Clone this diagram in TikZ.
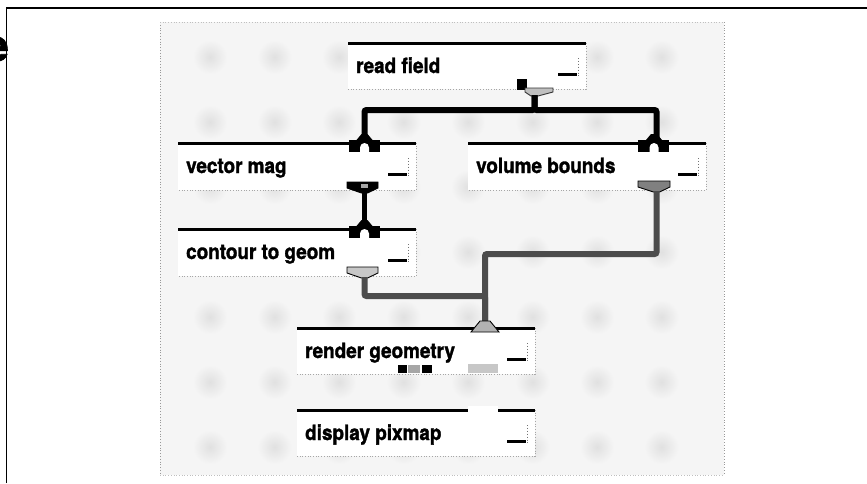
\documentclass[tikz,border=0pt]{standalone}
\usepackage{fontspec}
\setmainfont{TeX Gyre Heros}
\newfontface\modfont[FakeBold=1.6]{texgyreheros-bold.otf}
\usepackage{graphicx}
\usetikzlibrary{calc}
\newcommand\mymodule[5]{%
  \node[modbox, minimum height=#4pt] (#1) at (#2,#3) {};
  \draw[boxedge] (#1.north east) -- (#1.south east) -- (#1.south west);
  \draw[topbar] (#1.north west) -- (#1.north east);
  \node[modtitle] (#1-t) at ($(#1.north west)+(8,30)$) {\scalebox{0.9}[1]{#5}};
  \draw[widgetbar] ($(#1.north east)+(-28,31.5)$) -- ($(#1.north east)+(-9,31.5)$);
  \draw[widgetdots] ($(#1.north east)+(-8,15)$) -- ($(#1.north east)+(-8,33)$);
}
\newcommand\myinport[3]{%
  \fill[black] (#2-3,#3-9) -- (#2+3,#3-9) -- (#2+8,#3-3) -- (#2-8,#3-3) -- cycle;
  \fill[black] (#2-16,#3-3) rectangle (#2+15,#3+9);
  \fill[white] (#2-4.5,#3+9.5) -- (#2-4.5,#3+4.5) arc[start angle=180,end angle=360,radius=4.5] -- (#2+4.5,#3+9.5) -- cycle;
}
\newcommand\myfunnel[6]{%
  \filldraw[fill=#6, draw=black, line width=0.9pt] (#2,#4) -- (#3,#4) -- (#3,#4+6) -- (#5+3,#4+11) -- (#5-3,#4+11) -- (#2,#4+6) -- cycle;
  \coordinate (#1) at (#5,#4+10);
}
\begin{document}
\begin{tikzpicture}[x=1pt,y=-1pt,
  frameline/.style={line width=1.8pt, black},
  bgedge/.style={black!40, dotted, line width=0.8pt},
  modbox/.style={draw=none, fill=white, anchor=north west, minimum width=238pt, inner sep=0pt, outer sep=0pt},
  boxedge/.style={black!35, dotted, line width=0.7pt},
  topbar/.style={line width=3pt, black},
  modtitle/.style={anchor=base west, inner sep=0pt, font=\fontsize{21}{24}\modfont},
  widgetbar/.style={line width=2.6pt, black},
  widgetdots/.style={black!55, dotted, line width=0.9pt},
  wire/.style={line width=6pt, black, rounded corners=2pt},
  graywire/.style={line width=6pt, black!70, rounded corners=2pt},
  blob/.style={inner color=black!12, outer color=black!4}
]
\useasboundingbox (0,0) rectangle (867,483);
% outer frame
\coordinate (fr-tl) at (6.5,8);
\coordinate (fr-tr) at (867,8);
\coordinate (fr-bl) at (6.5,483);
\draw[frameline] (fr-bl) -- (fr-tl) -- (fr-tr);
\node[anchor=base east, inner sep=0pt, font=\fontsize{44}{44}\modfont] (cut) at (9,61) {e};
% stippled canvas
\fill[black!4] (160,22) rectangle (724,475);
\foreach \i in {0,...,7} {
  \foreach \j in {0,...,6} {
    \shade[blob] (210+64.5*\i,57+65*\j) circle (17);
  }
}
\draw[bgedge] (160,22) -- (160,475);
\draw[bgedge] (724,22) -- (724,475);
\draw[black!25, dotted, line width=0.7pt] (160,22) -- (724,22);
\draw[black!25, dotted, line width=0.7pt] (160,475) -- (724,475);
% modules
\mymodule{rf}{348}{43}{46}{read field}
\mymodule{vm}{178}{143}{47}{vector mag}
\mymodule{ct}{178}{229}{47}{contour to geom}
\mymodule{vb}{468}{143}{47}{volume bounds}
\mymodule{rg}{297}{328}{46}{render geometry}
\mymodule{dp}{297}{410}{46}{display pixmap}
\fill[white] (467.5,406) rectangle (498,414);
% input port anchors
\coordinate (vm-i) at (364.5,140);
\coordinate (vb-i) at (656.5,140);
\coordinate (ct-i) at (364.5,226);
\coordinate (rg-i) at (485,322);
% output ports
\fill[black] (517,79) rectangle (527,90);
\filldraw[fill=black!25, draw=black!80, line width=0.9pt] (525,88) -- (553,88) -- (553,92) -- (538,96) -- (531,96) -- (525,92) -- cycle;
\coordinate (rf-o) at (534.5,95);
\myfunnel{vm-o}{347}{378}{182}{364.5}{black}
\fill[black!35] (361,184) rectangle (368,188);
\myfunnel{ct-o}{347}{378}{267}{364.5}{black!22}
\myfunnel{vb-o}{638}{670}{181}{656.5}{black!50}
% connectors
\draw[wire] (rf-o) -- ++(0,15) -| (vm-i);
\draw[wire] (rf-o) -- ++(0,15) -| (vb-i);
\draw[wire, line width=5pt] (vm-o) -- (ct-i);
\draw[graywire] (vb-o) -- ++(0,63) -| (rg-i);
\draw[graywire] (ct-o) -- ++(0,19) -| (rg-i);
% input ports on top of wire ends
\myinport{vm-p}{364.5}{143}
\myinport{vb-p}{654}{143}
\myinport{ct-p}{364.5}{229}
\filldraw[fill=black!30, draw=black, line width=0.9pt] (480,321) -- (490,321) -- (499,332) -- (471,332) -- cycle;
% render geometry status marks and output
\fill[black] (398,365) rectangle (407,373);
\fill[black!35] (408,365) rectangle (420,373);
\fill[black] (422,365) rectangle (432,373);
\fill[black!22] (468,364) rectangle (498,373);
\end{tikzpicture}
\end{document}
